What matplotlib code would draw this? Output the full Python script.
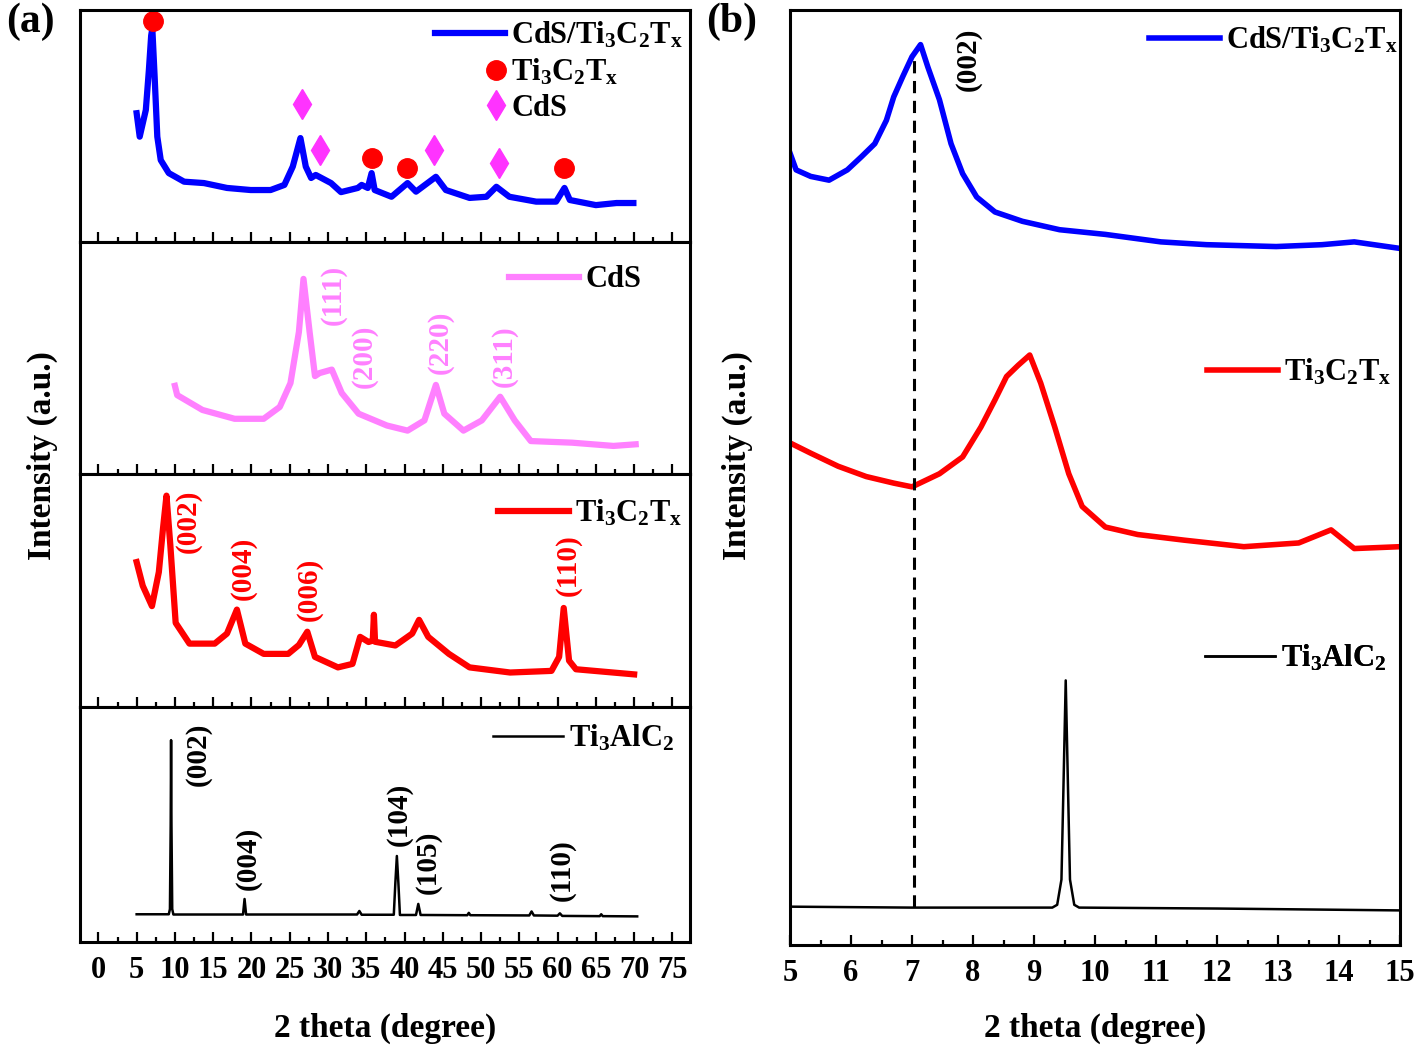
import matplotlib
matplotlib.use('Agg')
import matplotlib.pyplot as plt
from matplotlib.legend_handler import HandlerLine2D
from matplotlib.lines import Line2D
from matplotlib.ticker import MultipleLocator

plt.rcParams['font.family'] = ['Liberation Serif', 'DejaVu Serif']
plt.rcParams['font.weight'] = 'bold'
plt.rcParams['axes.labelweight'] = 'bold'
plt.rcParams['mathtext.fontset'] = 'custom'
plt.rcParams['mathtext.rm'] = 'Liberation Serif:bold'
plt.rcParams['mathtext.default'] = 'regular'

LBL_COMP = 'CdS/Ti$_3$C$_2$T$_x$'
LBL_MX = 'Ti$_3$C$_2$T$_x$'
LBL_CDS = 'CdS'
LBL_MAX = 'Ti$_3$AlC$_2$'

# ---------------- panel (a): 2 theta (deg) vs intensity (a.u.) ----------------
comp_x = [5.0, 5.4, 6.2, 6.6, 6.9, 7.05, 7.35, 7.7, 8.15, 9.2, 11.2, 13.8, 16.8, 19.9,
          22.5, 24.3, 25.4, 26.4, 27.1, 27.8, 28.4, 30.4, 31.7, 33.9, 34.4, 35.2,
          35.7, 36.1, 38.3, 40.4, 41.5, 44.1, 45.4, 48.5, 50.7, 52.0, 53.7, 57.2,
          59.8, 60.9, 61.6, 65.0, 67.7, 69.9]
comp_y = [55.5, 45.4, 56.9, 74.1, 89.0, 92.0, 71.3, 45.4, 35.3, 29.7, 26.0, 25.4, 23.3, 22.4,
          22.4, 24.6, 32.5, 44.8, 32.5, 27.6, 28.9, 25.4, 21.5, 23.3, 24.6, 23.3,
          29.7, 22.4, 19.5, 25.4, 21.7, 28.1, 22.4, 19.0, 19.5, 23.8, 19.5, 17.4,
          17.4, 23.3, 18.1, 15.9, 16.8, 16.8]

mx_mark_x = [7.08, 35.8, 40.3, 60.9]
mx_mark_y = [95.4, 36.3, 31.9, 31.9]
cds_mark_x = [26.6, 28.9, 43.9, 52.3]
cds_mark_y = [59.5, 39.7, 39.7, 34.1]

cds_x = [10.0, 10.3, 13.6, 17.8, 21.6, 23.7, 25.1, 26.2, 26.8, 27.6, 28.3, 28.9, 30.5,
         31.8, 34.0, 37.7, 40.4, 42.6, 44.1, 45.2, 47.7, 50.1, 52.5, 54.4, 56.5,
         61.9, 67.3, 70.2]
cds_y = [38.0, 34.0, 27.6, 23.8, 23.8, 28.9, 39.2, 61.2, 84.1, 61.2, 42.2, 43.5, 45.0,
         34.9, 26.0, 20.9, 18.7, 23.1, 38.4, 26.0, 18.7, 23.1, 33.3, 23.1, 14.2,
         13.5, 12.1, 12.8]
cds_hkl = ['(111)', '(200)', '(220)', '(311)']
cds_hkl_x = [30.7, 34.8, 44.7, 53.0]
cds_hkl_y = [77.3, 50.9, 56.9, 50.9]

mx_x = [5.0, 5.8, 7.0, 7.9, 8.45, 8.9, 9.4, 10.1, 11.9, 15.2, 16.8, 18.1, 19.2, 21.6,
        24.8, 26.2, 27.3, 28.3, 31.3, 33.2, 34.2, 35.3, 35.85, 36.0, 36.15, 38.8,
        41.0, 41.9, 43.1, 45.8, 48.5, 53.8, 59.2, 60.2, 60.8, 61.5, 62.4, 70.0]
mx_y = [62.2, 52.0, 43.3, 57.9, 76.8, 90.7, 69.5, 36.1, 27.2, 27.2, 31.5, 41.8, 27.2, 22.8,
        22.8, 26.6, 32.3, 21.5, 17.0, 18.5, 30.1, 27.9, 28.5, 39.6, 28.0, 26.4,
        31.5, 37.4, 30.1, 22.8, 17.0, 14.8, 15.5, 21.5, 42.5, 19.9, 16.2, 14.0]
mx_hkl = ['(002)', '(004)', '(006)', '(110)']
mx_hkl_x = [11.8, 18.9, 27.6, 61.4]
mx_hkl_y = [79.8, 59.3, 50.6, 60.8]

max_x = [5.0, 9.2, 9.35, 9.45, 9.5, 9.55, 9.65, 9.8, 18.9, 19.1, 19.3, 33.8, 34.1, 34.4,
         38.6, 38.8, 39.0, 39.2, 39.4, 41.5, 41.8, 42.1, 48.2, 48.4, 48.6, 56.3,
         56.6, 56.9, 60.0, 60.3, 60.6, 65.5, 65.7, 65.9, 70.4]
max_y = [11.8, 11.8, 14.0, 50.0, 85.9, 50.0, 14.0, 11.7, 11.7, 18.3, 11.7, 11.7, 13.2, 11.6,
         11.6, 25.0, 36.6, 25.0, 11.5, 11.5, 16.2, 11.5, 11.4, 12.4, 11.4, 11.3,
         13.0, 11.3, 11.2, 12.2, 11.1, 11.0, 11.8, 11.0, 10.9]
max_hkl = ['(002)', '(004)', '(104)', '(105)', '(110)']
max_hkl_x = [13.05, 19.6, 39.3, 43.1, 60.6]
max_hkl_y = [80.0, 35.4, 54.1, 34.0, 30.4]

# ---------------- panel (b): low-angle region ----------------
b_comp_x = [5.0, 5.1, 5.34, 5.64, 5.94, 6.17, 6.39, 6.58, 6.70, 6.85, 7.0, 7.14, 7.26,
            7.45, 7.64, 7.83, 8.06, 8.36, 8.81, 9.42, 10.17, 11.08, 11.83, 12.97,
            13.72, 14.25, 15.0]
b_comp_y = [84.7, 82.9, 82.2, 81.8, 82.9, 84.3, 85.7, 88.2, 90.7, 92.9, 95.0, 96.3, 93.9,
            90.4, 85.7, 82.5, 80.0, 78.4, 77.4, 76.5, 76.0, 75.2, 74.9, 74.7,
            74.9, 75.2, 74.5]
b_mx_x = [5.0, 5.34, 5.79, 6.25, 6.70, 7.0, 7.45, 7.83, 8.13, 8.36, 8.55, 8.74, 8.93,
          9.11, 9.34, 9.57, 9.79, 10.17, 10.70, 11.46, 12.44, 13.34, 13.87, 14.25, 15.0]
b_mx_y = [53.7, 52.6, 51.2, 50.1, 49.4, 49.0, 50.4, 52.2, 55.4, 58.3, 60.8, 62.0, 63.1,
          60.1, 55.4, 50.4, 46.9, 44.7, 43.9, 43.3, 42.6, 43.0, 44.4, 42.4, 42.6]
b_max_x = [5.0, 7.0, 9.3, 9.38, 9.45, 9.48, 9.52, 9.56, 9.59, 9.66, 9.74, 12.0, 15.0]
b_max_y = [4.1, 4.0, 4.0, 4.3, 7.0, 16.0, 28.3, 16.0, 7.0, 4.3, 4.0, 3.9, 3.7]
b_peak_pos = 7.04
b_peak_lo, b_peak_hi = 4.1, 95.0

BLUE, RED, PINK, MAG, BLACK = '#0000ff', '#ff0000', '#ff80ff', '#ff33ff', '#000000'
FS_TICK, FS_LAB, FS_LEG, FS_HKL = 22, 24, 22, 21


class MarkerRight(HandlerLine2D):
    # single legend marker drawn near the right end of the handle
    def create_artists(self, legend, orig_handle, xdescent, ydescent, width, height,
                       fontsize, trans):
        arts = super().create_artists(legend, orig_handle, xdescent, ydescent, width,
                                      height, fontsize, trans)
        xm = -xdescent + width - 0.3 * fontsize
        for a in arts:
            xd = list(a.get_xdata())
            if len(xd) == 3:
                a.set_xdata([xd[0], xm, xd[-1]])
        return arts


def style_axis(ax, major, minor, labels=True):
    for sp in ax.spines.values():
        sp.set_linewidth(2.2)
    ax.set_yticks([])
    ax.xaxis.set_major_locator(MultipleLocator(major))
    ax.xaxis.set_minor_locator(MultipleLocator(minor))
    ax.tick_params(axis='x', which='major', direction='in', length=7, width=1.6,
                   labelsize=FS_TICK, pad=10, labelbottom=labels)
    ax.tick_params(axis='x', which='minor', direction='in', length=3.5, width=1.6)


def add_legend(ax, x, y, handler=None, spacing=0.15):
    kw = dict(loc='upper left', bbox_to_anchor=(x, y), frameon=False, fontsize=FS_LEG,
              handlelength=2.3, handletextpad=0.2, borderpad=0, borderaxespad=0,
              labelspacing=spacing)
    if handler:
        kw['handler_map'] = handler
    ax.legend(**kw)


fig = plt.figure(figsize=(14.18, 10.49), dpi=100)
W, H = 1418.0, 1049.0
bounds = [10, 242, 474, 707, 942]
axs = []
for i in range(4):
    ax = fig.add_axes([80 / W, 1 - bounds[i + 1] / H, 610 / W, (bounds[i + 1] - bounds[i]) / H])
    ax.set_xlim(-2.4, 77.3)
    ax.set_ylim(0, 100)
    style_axis(ax, 5, 2.5, labels=(i == 3))
    axs.append(ax)

# top: composite
ax = axs[0]
ax.plot(comp_x, comp_y, color=BLUE, lw=4.5, solid_joinstyle='round', label=LBL_COMP)
ax.plot(mx_mark_x, mx_mark_y, 'o', ms=14, color=RED, ls='none', label=LBL_MX)
ax.plot(cds_mark_x, cds_mark_y, 'd', ms=15, color=MAG, ls='none', label=LBL_CDS)
add_legend(ax, 0.582, 0.955, handler={Line2D: MarkerRight(numpoints=1)}, spacing=0.2)

# CdS
ax = axs[1]
ax.plot(cds_x, cds_y, color=PINK, lw=4.5, solid_joinstyle='round', label=LBL_CDS)
for s, x, y in zip(cds_hkl, cds_hkl_x, cds_hkl_y):
    ax.text(x, y, s, rotation=90, ha='center', va='center', color=PINK, fontsize=FS_HKL)
add_legend(ax, 0.703, 0.90)

# Ti3C2Tx
ax = axs[2]
ax.plot(mx_x, mx_y, color=RED, lw=4.5, solid_joinstyle='round', label=LBL_MX)
for s, x, y in zip(mx_hkl, mx_hkl_x, mx_hkl_y):
    ax.text(x, y, s, rotation=90, ha='center', va='center', color=RED, fontsize=FS_HKL)
add_legend(ax, 0.686, 0.896)

# Ti3AlC2
ax = axs[3]
ax.plot(max_x, max_y, color=BLACK, lw=1.8, label=LBL_MAX)
for s, x, y in zip(max_hkl, max_hkl_x, max_hkl_y):
    ax.text(x, y, s, rotation=90, ha='center', va='center', color=BLACK, fontsize=FS_HKL)
add_legend(ax, 0.677, 0.93)
ax.set_xlabel('2 theta (degree)', fontsize=FS_LAB, labelpad=20)

fig.text(42 / W, 1 - 456 / H, 'Intensity (a.u.)', rotation=90, ha='center', va='center',
         fontsize=FS_LAB)
fig.text(30 / W, 1 - 22 / H, '(a)', ha='center', va='center', fontsize=30)

# ---------------- panel (b) ----------------
bx = fig.add_axes([790 / W, 1 - 945 / H, 610 / W, 935 / H])
bx.set_xlim(5, 15)
bx.set_ylim(0, 100)
style_axis(bx, 1, 0.5)
bx.plot(b_comp_x, b_comp_y, color=BLUE, lw=4, solid_joinstyle='round')
bx.plot(b_mx_x, b_mx_y, color=RED, lw=4, solid_joinstyle='round')
bx.plot(b_max_x, b_max_y, color=BLACK, lw=1.8)
bx.vlines(b_peak_pos, b_peak_lo, b_peak_hi, colors=BLACK, linestyles=(0, (4, 2.5)), lw=2.2)
bx.text(7.92, 94.7, '(002)', rotation=90, ha='center', va='center', fontsize=FS_HKL)
bx.set_xlabel('2 theta (degree)', fontsize=FS_LAB, labelpad=18)

for line, lbl, (lx, ly) in zip(bx.lines, [LBL_COMP, LBL_MX, LBL_MAX],
                               [(0.589, 0.984), (0.684, 0.629), (0.680, 0.323)]):
    leg = bx.legend([line], [lbl], loc='upper left', bbox_to_anchor=(lx, ly), frameon=False,
                    fontsize=FS_LEG, handlelength=2.3, handletextpad=0.2, borderpad=0,
                    borderaxespad=0)
    bx.add_artist(leg)

fig.text(737 / W, 1 - 456 / H, 'Intensity (a.u.)', rotation=90, ha='center', va='center',
         fontsize=FS_LAB)
fig.text(732 / W, 1 - 22 / H, '(b)', ha='center', va='center', fontsize=30)

fig.savefig('out.png', dpi=100)
